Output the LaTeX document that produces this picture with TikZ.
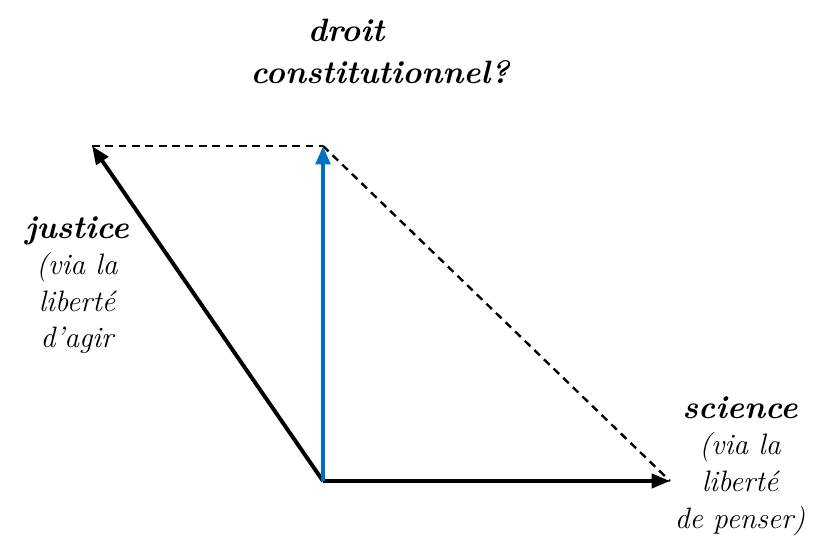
\documentclass[tikz,border=0pt]{standalone}
\usepackage{xcolor}
\usepackage{tikz}
\usetikzlibrary{positioning, arrows.meta}

\definecolor{vecblue}{RGB}{0,112,192}

\begin{document}
\begin{tikzpicture}[node distance=0.9cm, every node/.style={font=\fontsize{21}{26}\selectfont\itshape}]
      \tikzstyle{vec}=[line width=2.8pt, -{Triangle[length=13pt, width=10pt]}]
      \tikzstyle{guide}=[line width=1.7pt, dash pattern=on 5.5pt off 4pt]
      \tikzstyle{lbl}=[align=center, inner sep=0pt]
      \tikzstyle{head}=[lbl, font=\fontsize{23}{26}\selectfont\bfseries\itshape]
      \useasboundingbox (0,0) rectangle (20.35,13.575);
      \coordinate (o) at (8.075,1.55);
      \coordinate (top) at (8.075,9.925);
      \coordinate (left) at (2.3,9.925);
      \coordinate (right) at (16.75,1.55);
      % parallelogram guides
      \draw[guide] (left) -- (top);
      \draw[guide] (top) -- (right);
      % vectors
      \draw[vec] (o) -- (left);
      \draw[vec] (o) -- (right);
      \draw[vec, vecblue, line width=3.4pt] (o) -- (top);
      % labels
      \node[head] (droit) at (8.65,12.825) {droit};
      \node[head] (constit) at (9.5,11.775) {constitutionnel?};
      \node[lbl] (justice) at (1.925,6.45) {{\fontsize{23}{26}\selectfont\bfseries justice}\\(via la\\liberté\\d'agir};
      \node[lbl] (science) at (18.5,1.925) {{\fontsize{23}{26}\selectfont\bfseries science}\\(via la\\liberté\\de penser)};
    \end{tikzpicture}
\end{document}
